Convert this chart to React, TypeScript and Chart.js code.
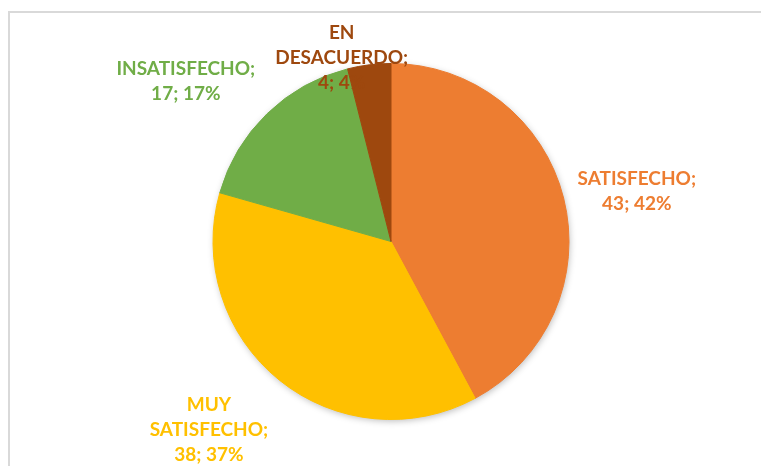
import React, { useEffect, useRef } from "react";
import { Chart, registerables } from "chart.js";

Chart.register(...registerables);

const categories = ["SATISFECHO", "MUY SATISFECHO", "INSATISFECHO", "EN DESACUERDO"];
const values = [43, 38, 17, 4];
const percentLabels = ["42%", "37%", "17%", "4%"];
const labelLines = [
  ["SATISFECHO;", "43; 42%"],
  ["MUY", "SATISFECHO;", "38; 37%"],
  ["INSATISFECHO;", "17; 17%"],
  ["EN", "DESACUERDO;", "4; 4%"],
];

const colors = ["#ED7D31", "#FFC000", "#70AD47", "#9E480E"];
const labelNudges = [
  [6, 1.5],
  [-27, 13],
  [-26, -7.5],
  [-18, 40],
];
const FONT = "bold 19px Lato";
const LINE_H = 25;

const framePlugin = {
  id: "frame",
  beforeDraw(chart: any) {
    const ctx = chart.ctx;
    ctx.save();
    ctx.fillStyle = "#ffffff";
    ctx.fillRect(0, 0, chart.width, chart.height);
    ctx.fillStyle = "#d9d9d9";
    ctx.fillRect(8, 11, chart.width - 8, 2);
    ctx.fillRect(8, 11, 2, chart.height - 11);
    ctx.restore();
  },
  beforeDatasetsDraw(chart: any) {
    const meta = chart.getDatasetMeta(0);
    const arc = meta.data[0];
    if (!arc) return;
    const { x, y, outerRadius } = arc.getProps(["x", "y", "outerRadius"], true);
    const ctx = chart.ctx;
    ctx.save();
    ctx.shadowColor = "rgba(0,0,0,0.28)";
    ctx.shadowBlur = 7;
    ctx.shadowOffsetX = 1;
    ctx.shadowOffsetY = 2;
    ctx.fillStyle = "#ffffff";
    ctx.beginPath();
    ctx.arc(x, y, outerRadius - 0.5, 0, Math.PI * 2);
    ctx.fill();
    ctx.restore();
  },
  afterDatasetsDraw(chart: any) {
    const meta = chart.getDatasetMeta(0);
    const ctx = chart.ctx;
    ctx.save();
    ctx.font = FONT;
    ctx.textAlign = "center";
    ctx.textBaseline = "middle";
    meta.data.forEach((el: any, i: number) => {
      const { x, y, startAngle, endAngle, outerRadius } = el.getProps(
        ["x", "y", "startAngle", "endAngle", "outerRadius"],
        true
      );
      const mid = (startAngle + endAngle) / 2;
      const dx = Math.cos(mid);
      const dy = Math.sin(mid);
      const r = outerRadius + 10;
      const ax = x + dx * r;
      const ay = y + dy * r;
      const lines = labelLines[i];
      const w = Math.max(...lines.map((l) => ctx.measureText(l).width));
      const h = lines.length * LINE_H;
      const cx = ax + (dx * w) / 2 + labelNudges[i][0];
      const cy = ay + (dy * h) / 2 + labelNudges[i][1];
      ctx.fillStyle = colors[i];
      lines.forEach((line, j) => {
        ctx.fillText(line, cx, cy - h / 2 + LINE_H * (j + 0.5));
      });
    });
    ctx.restore();
  },
};

export default function App() {
  const ref = useRef<HTMLCanvasElement | null>(null);
  useEffect(() => {
    if (!ref.current) return;
    const chart = new Chart(ref.current, {
      type: "pie",
      data: {
        labels: categories,
        datasets: [
          {
            data: values,
            backgroundColor: colors,
            borderColor: colors,
            borderWidth: 1,
          },
        ],
      },
      options: {
        responsive: false,
        animation: false,
        layout: { padding: { top: 63, bottom: 46, left: 212, right: 191 } },
        plugins: {
          legend: { display: false },
          tooltip: { enabled: false },
        },
      },
      plugins: [framePlugin],
    });
    return () => chart.destroy();
  }, []);
  return (
    <div style={{ position: "fixed", left: 0, top: 0, width: 761, height: 466, background: "#fff" }}>
      <canvas ref={ref} width={761} height={466} style={{ display: "block" }} />
    </div>
  );
}
